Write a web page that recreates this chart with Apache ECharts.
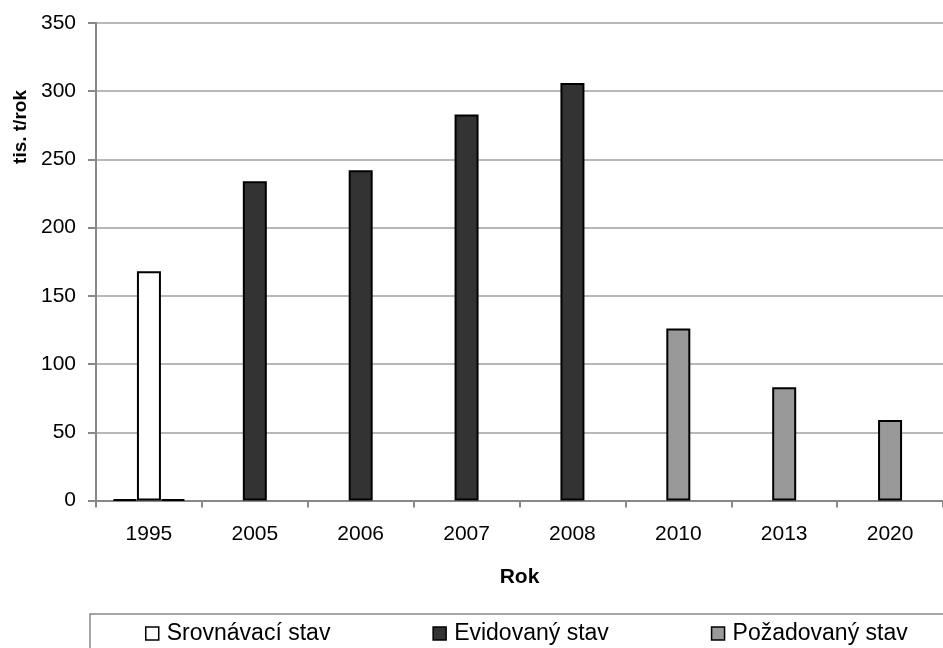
<!DOCTYPE html>
<html>
<head>
<meta charset="utf-8">
<script src="https://cdn.jsdelivr.net/npm/echarts@6/dist/echarts.min.js"></script>
<style>
  html, body { margin: 0; padding: 0; background: #fff; }
  #chart { width: 943px; height: 648px; }
</style>
</head>
<body>
<div id="chart"></div>
<script>
// Roky
const years = ['1995', '2005', '2006', '2007', '2008', '2010', '2013', '2020'];
// tis. t/rok
const srovnavaci = [168, null, null, null, null, null, null, null];
const evidovany = [null, 234, 242, 283, 306, null, null, null];
const pozadovany = [null, null, null, null, null, 126, 83, 59];
// nulové hodnoty v roce 1995 (boční sloupce skupiny)
const evidovanyZero = [0, null, null, null, null, null, null, null];
const pozadovanyZero = [0, null, null, null, null, null, null, null];
const yTicks = { min: 0, max: 350, interval: 50 };

const FONT = '"Liberation Sans", Arial, Helvetica, sans-serif';
const border = { borderColor: '#000', borderWidth: 2 };
const COLORS = { srovnavaci: '#ffffff', evidovany: '#333333', pozadovany: '#999999' };

const chart = echarts.init(document.getElementById('chart'), null, { renderer: 'canvas' });

chart.setOption({
  animation: false,
  backgroundColor: '#ffffff',
  textStyle: { fontFamily: FONT, color: '#000' },
  grid: { left: 96, right: -7, top: 23, bottom: 147.5, containLabel: false },
  legend: {
    data: ['Srovnávací stav', 'Evidovaný stav', 'Požadovaný stav'],
    left: 90,
    top: 614,
    width: 1200,
    orient: 'horizontal',
    padding: [8, 80, 30, 55],
    itemGap: 102,
    itemWidth: 13,
    itemHeight: 13,
    borderColor: '#888',
    borderWidth: 1.5,
    icon: 'rect',
    itemStyle: { borderColor: '#000', borderWidth: 1.5 },
    textStyle: { fontFamily: FONT, fontSize: 23, color: '#000', padding: [0, 0, 0, 3] }
  },
  xAxis: {
    type: 'category',
    data: years,
    boundaryGap: true,
    name: 'Rok',
    nameLocation: 'middle',
    nameGap: 66,
    nameTextStyle: { fontFamily: FONT, fontSize: 21, fontWeight: 'bold', color: '#000' },
    axisLine: { lineStyle: { color: '#888', width: 2 } },
    axisTick: { show: true, length: 7, lineStyle: { color: '#888', width: 2 } },
    axisLabel: { margin: 23, fontFamily: FONT, fontSize: 21, color: '#000' },
    splitLine: { show: false }
  },
  yAxis: {
    type: 'value',
    min: yTicks.min,
    max: yTicks.max,
    interval: yTicks.interval,
    axisLine: { show: true, lineStyle: { color: '#888', width: 2 } },
    axisTick: { show: true, length: 8, inside: false, lineStyle: { color: '#888', width: 2 } },
    axisLabel: { margin: 20, fontFamily: FONT, fontSize: 21, color: '#000' },
    splitLine: { show: true, lineStyle: { color: '#a0a0a0', width: 1.5 } }
  },
  graphic: [{
    type: 'text',
    x: 21,
    y: 127,
    rotation: Math.PI / 2,
    style: {
      text: 'tis. t/rok',
      align: 'center',
      verticalAlign: 'middle',
      font: 'bold 19px ' + FONT,
      fill: '#000'
    }
  }],
  series: [
    {
      name: 'Evidovaný stav', type: 'bar', stack: 'left', data: evidovanyZero,
      barGap: 0, barCategoryGap: '32%', barMinHeight: 1, clip: false, z: 3,
      itemStyle: Object.assign({ color: COLORS.evidovany }, border)
    },
    {
      name: 'Srovnávací stav', type: 'bar', stack: 'mid', data: srovnavaci,
      barGap: 0, barCategoryGap: '32%',
      itemStyle: Object.assign({ color: COLORS.srovnavaci }, border)
    },
    {
      name: 'Evidovaný stav', type: 'bar', stack: 'mid', data: evidovany,
      barGap: 0, barCategoryGap: '32%',
      itemStyle: Object.assign({ color: COLORS.evidovany }, border)
    },
    {
      name: 'Požadovaný stav', type: 'bar', stack: 'mid', data: pozadovany,
      barGap: 0, barCategoryGap: '32%',
      itemStyle: Object.assign({ color: COLORS.pozadovany }, border)
    },
    {
      name: 'Požadovaný stav', type: 'bar', stack: 'right', data: pozadovanyZero,
      barGap: 0, barCategoryGap: '32%', barMinHeight: 1, clip: false, z: 3,
      itemStyle: Object.assign({ color: COLORS.pozadovany }, border)
    }
  ]
});
</script>
</body>
</html>
